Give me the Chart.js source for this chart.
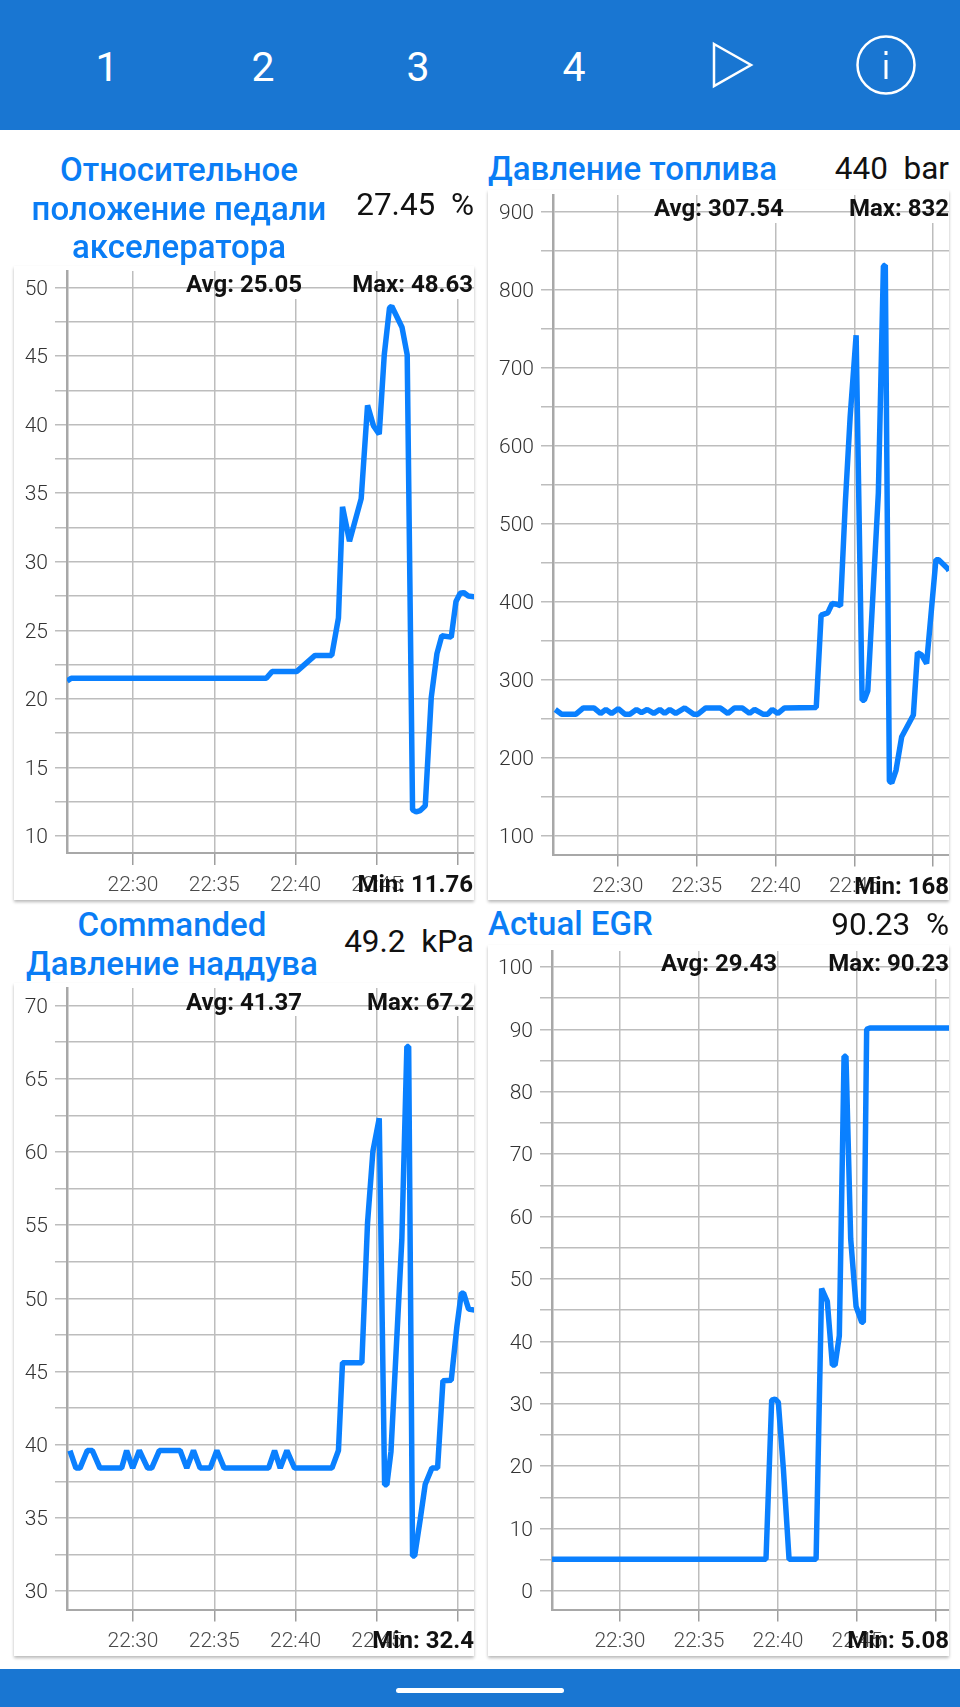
<!DOCTYPE html>
<html>
<head>
<meta charset="utf-8">
<title>Graphs</title>
<script src="https://cdn.jsdelivr.net/npm/chart.js@4"></script>
<style>
    html, body { margin: 0; padding: 0; background: #fff; }
    body { position: relative; width: 960px; height: 1707px; overflow: hidden; font-family: Roboto, sans-serif; }
    #top { position: absolute; left: 0; top: 0; width: 960px; height: 130px; background: #1976d2; }
    #bottom { position: absolute; left: 0; top: 1669px; width: 960px; height: 38px; background: #1976d2; }
    #pill { position: absolute; left: 396px; top: 19px; width: 168px; height: 5px; border-radius: 3px; background: #fff; }
    .num { position: absolute; top: 43px; width: 60px; margin-left: -30px; text-align: center; color: #fff; font-size: 41px; line-height: 48px; }
    .card { position: absolute; background: #fff; box-shadow: 0 2px 3px rgba(0,0,0,.28); overflow: hidden; }
    .card canvas { position: absolute; left: 0; top: 0; }
    .title { position: absolute; color: #0a7df5; font-size: 33px; font-weight: 500; line-height: 38.5px; white-space: nowrap; }
    .value { position: absolute; color: #111; font-size: 31.5px; line-height: 38px; white-space: pre; }
    .stat { position: absolute; color: #111; font-size: 24px; font-weight: 700; line-height: 26px; white-space: nowrap; }
</style>
</head>
<body>
<div id="top">
    <div class="num" style="left:107px">1</div>
    <div class="num" style="left:263px">2</div>
    <div class="num" style="left:418px">3</div>
    <div class="num" style="left:574px">4</div>
    <svg width="960" height="130" style="position:absolute;left:0;top:0">
        <path d="M714 44 L751 65 L714 86 Z" fill="none" stroke="#fff" stroke-width="2.5"/>
        <circle cx="886" cy="65" r="28.5" fill="none" stroke="#fff" stroke-width="2.5"/>
        <rect x="884.5" y="60" width="3" height="19" fill="#fff"/>
        <rect x="884.5" y="51" width="3" height="4" fill="#fff"/>
    </svg>
</div>
<div id="bottom"><div id="pill"></div></div>
<script>
// minutes after 22:00
var xTicks = [30, 35, 40, 45, 50];
var xLabels = ['22:30', '22:35', '22:40', '22:45', ''];

var timesPedal = [25.95, 26.2, 38.2, 38.56, 40.08, 41.2, 42.23, 42.64, 42.89, 43.32, 44.04, 44.43, 44.8, 45.15, 45.46, 45.78, 45.92, 46.55, 46.87, 47.2, 47.42, 47.67, 47.98, 48.35, 48.7, 49.0, 49.58, 49.87, 50.13, 50.34, 50.63, 51];
var valuesPedal = [21.3, 21.5, 21.5, 22, 22, 23.17, 23.17, 25.9, 34, 31.5, 34.6, 41.4, 39.9, 39.3, 45.1, 48.5, 48.63, 47.1, 45.1, 11.9, 11.76, 11.85, 12.2, 20.1, 23.3, 24.6, 24.5, 27.1, 27.7, 27.75, 27.5, 27.45];
var yTicksPedal = [10, 12.5, 15, 17.5, 20, 22.5, 25, 27.5, 30, 32.5, 35, 37.5, 40, 42.5, 45, 47.5, 50];

var timesFuel = [26.03, 26.43, 27.34, 27.81, 28.48, 28.9, 29.24, 29.6, 30.02, 30.44, 30.76, 31.18, 31.5, 31.86, 32.28, 32.66, 32.97, 33.29, 33.67, 34.24, 34.81, 35.08, 35.57, 36.5, 36.98, 37.4, 37.89, 38.35, 38.67, 39.2, 39.51, 39.79, 40.15, 40.57, 42.58, 42.89, 43.31, 43.59, 43.88, 44.12, 44.43, 44.73, 45.11, 45.49, 45.63, 45.85, 46.52, 46.84, 46.96, 47.22, 47.37, 47.64, 48, 48.74, 49, 49.26, 49.58, 50.17, 50.34, 50.91, 51];
var valuesFuel = [262, 256, 256, 264, 264, 257, 262, 257, 263, 256, 256, 262, 258, 262, 257, 262, 257, 262, 257, 264, 256, 256, 264, 264, 257, 264, 264, 257, 262, 256, 256, 262, 257, 264, 264.7, 383, 386, 398, 397, 395, 529, 637, 742, 274, 274, 286, 540, 831, 832, 170, 168, 184, 227, 255, 335, 332, 321, 454, 454, 443, 440];
var yTicksFuel = [100, 150, 200, 250, 300, 350, 400, 450, 500, 550, 600, 650, 700, 750, 800, 850, 900];

var timesBoost = [26.12, 26.49, 26.74, 27.19, 27.5, 27.97, 29.3, 29.61, 29.98, 30.39, 30.9, 31.15, 31.62, 32.9, 33.31, 33.72, 34.13, 34.75, 35.16, 35.61, 38.34, 38.71, 39.06, 39.47, 39.94, 42.24, 42.64, 42.89, 44.08, 44.43, 44.76, 45.15, 45.48, 45.62, 45.87, 46.54, 46.85, 46.96, 47.2, 47.33, 47.67, 47.98, 48.39, 48.74, 49.07, 49.58, 49.93, 50.2, 50.34, 50.65, 51];
var valuesBoost = [39.6, 38.4, 38.4, 39.6, 39.6, 38.4, 38.4, 39.6, 38.4, 39.6, 38.4, 38.4, 39.6, 39.6, 38.4, 39.6, 38.4, 38.4, 39.6, 38.4, 38.4, 39.6, 38.4, 39.6, 38.4, 38.4, 39.6, 45.6, 45.6, 55.15, 60.04, 62.3, 37.27, 37.27, 39.5, 54, 67.2, 67.2, 32.4, 32.4, 34.88, 37.3, 38.4, 38.4, 44.37, 44.4, 48.1, 50.35, 50.35, 49.26, 49.2];
var yTicksBoost = [30, 32.5, 35, 37.5, 40, 42.5, 45, 47.5, 50, 52.5, 55, 57.5, 60, 62.5, 65, 67.5, 70];

var timesEgr = [25.7, 39.24, 39.6, 39.81, 40.02, 40.34, 40.7, 42.41, 42.76, 43.12, 43.44, 43.61, 43.88, 44.18, 44.3, 44.6, 44.94, 45.3, 45.4, 45.61, 45.82, 51];
var valuesEgr = [5.08, 5.08, 30.6, 30.76, 30.26, 19.57, 5.08, 5.08, 48.47, 46.4, 36.2, 36.2, 40.9, 85.68, 85.68, 56.4, 45.58, 43.05, 43.05, 90, 90.23, 90.23];
var yTicksEgr = [0, 5, 10, 15, 20, 25, 30, 35, 40, 45, 50, 55, 60, 65, 70, 75, 80, 85, 90, 95, 100];

var panels = [
    { times: timesPedal, values: valuesPedal, yTicks: yTicksPedal, labelStep: 5, xMin: 25.94, xMax: 50.98, yMin: 8.76, yMax: 51.2,
      card: [14, 266, 460, 634], plot: [67, 271, 853], gapTicks: [40, 50],
      title: ['Относительное', 'положение педали', 'акселератора'], titleCenter: 179, titleTop: 151,
      value: '27.45  %', valueTop: 186,
      avg: 'Avg: 25.05', avgLeft: 186, statTop: 271, max: 'Max: 48.63', statRight: 473, min: 'Min: 11.76', minTop: 871 },
    { times: timesFuel, values: valuesFuel, yTicks: yTicksFuel, labelStep: 100, xMin: 25.886, xMax: 51, yMin: 76, yMax: 922,
      card: [488, 190, 461, 710], plot: [553, 195, 854.5], gapTicks: [40, 50],
      title: ['Давление топлива'], titleLeft: 488, titleTop: 150,
      value: '440  bar', valueTop: 150,
      avg: 'Avg: 307.54', avgLeft: 654, statTop: 195, max: 'Max: 832', statRight: 949, min: 'Min: 168', minTop: 873 },
    { times: timesBoost, values: valuesBoost, yTicks: yTicksBoost, labelStep: 5, xMin: 25.94, xMax: 50.98, yMin: 28.74, yMax: 71.2,
      card: [14, 983, 460, 673], plot: [67, 988, 1609.5], gapTicks: [40, 50],
      title: ['Commanded', 'Давление наддува'], titleCenter: 172, titleTop: 906, 
      value: '49.2  kPa', valueTop: 923,
      avg: 'Avg: 41.37', avgLeft: 186, statTop: 989, max: 'Max: 67.2', statRight: 474, min: 'Min: 32.4', minTop: 1627 },
    { times: timesEgr, values: valuesEgr, yTicks: yTicksEgr, labelStep: 10, xMin: 25.7, xMax: 50.82, yMin: -2.97, yMax: 102.56,
      card: [488, 945, 461, 711], plot: [552, 951, 1609.5], gapTicks: [50],
      title: ['Actual EGR'], titleLeft: 488, titleTop: 905,
      value: '90.23  %', valueTop: 906,
      avg: 'Avg: 29.43', avgLeft: 661, statTop: 950, max: 'Max: 90.23', statRight: 949, min: 'Min: 5.08', minTop: 1627 }
];

// the stat text hides the top of some vertical grid lines
var gridGaps = {
    id: 'gridGaps',
    beforeDatasetsDraw: function (chart, args, opts) {
        var ctx = chart.ctx;
        var yTop = chart.scales.y.getPixelForValue(opts.topValue);
        for (var i = 0; i < opts.ticks.length; i++) {
            var x = chart.scales.x.getPixelForValue(opts.ticks[i]);
            ctx.clearRect(x - 2, chart.chartArea.top - 1, 4, 29);
            ctx.save();
            ctx.strokeStyle = '#bdbdbd';
            ctx.lineWidth = 1.5;
            ctx.beginPath();
            ctx.moveTo(x - 3, yTop);
            ctx.lineTo(x + 3, yTop);
            ctx.stroke();
            ctx.restore();
        }
    }
};

function addText(cls, text, css) {
    var el = document.createElement('div');
    el.className = cls;
    el.textContent = text;
    for (var k in css) { el.style[k] = css[k]; }
    document.body.appendChild(el);
    return el;
}

function buildChart(p) {
    var card = document.createElement('div');
    card.className = 'card';
    card.style.left = p.card[0] + 'px';
    card.style.top = p.card[1] + 'px';
    card.style.width = p.card[2] + 'px';
    card.style.height = p.card[3] + 'px';
    var canvas = document.createElement('canvas');
    canvas.width = p.card[2];
    canvas.height = p.card[3];
    card.appendChild(canvas);
    document.body.appendChild(card);

    var points = [];
    for (var i = 0; i < p.times.length; i++) {
        points.push({ x: p.times[i], y: p.values[i] });
    }

    new Chart(canvas.getContext('2d'), {
        type: 'line',
        data: { datasets: [{ data: points, borderColor: '#0a80ff', borderWidth: 5.5, pointRadius: 0, tension: 0, borderJoinStyle: 'bevel' }] },
        plugins: [gridGaps],
        options: {
            responsive: false,
            animation: false,
            layout: { padding: { top: p.plot[1] - p.card[1], left: 0, right: 0, bottom: 0 } },
            plugins: {
                legend: { display: false },
                title: { display: false },
                tooltip: { enabled: false },
                gridGaps: { ticks: p.gapTicks, topValue: p.yTicks[p.yTicks.length - 1] }
            },
            scales: {
                x: {
                    type: 'linear',
                    min: p.xMin,
                    max: p.xMax,
                    afterBuildTicks: function (axis) {
                        axis.ticks = xTicks.map(function (v) { return { value: v }; });
                    },
                    afterFit: function (axis) {
                        axis.height = p.card[1] + p.card[3] - p.plot[2];
                        axis.paddingLeft = 0;
                        axis.paddingRight = 0;
                    },
                    grid: { color: '#bdbdbd', lineWidth: 1.5, tickLength: 12, tickColor: '#9e9e9e' },
                    border: { color: '#a8a8a8', width: 2 },
                    ticks: {
                        autoSkip: false,
                        maxRotation: 0,
                        padding: 8,
                        color: '#4a4a4a',
                        font: { family: 'Roboto', size: 21, weight: '300' },
                        callback: function (v) { return xLabels[xTicks.indexOf(v)]; }
                    }
                },
                y: {
                    type: 'linear',
                    min: p.yMin,
                    max: p.yMax,
                    afterBuildTicks: function (axis) {
                        axis.ticks = p.yTicks.map(function (v) { return { value: v }; });
                    },
                    afterFit: function (axis) {
                        axis.width = p.plot[0] - p.card[0];
                        axis.paddingTop = 0;
                        axis.paddingBottom = 0;
                    },
                    grid: { color: '#bdbdbd', lineWidth: 1.5, tickLength: 12 },
                    border: { color: '#a8a8a8', width: 2.5 },
                    ticks: {
                        autoSkip: false,
                        padding: 7,
                        labelOffset: 2,
                        color: '#333',
                        font: { family: 'Roboto', size: 21, weight: '300' },
                        callback: function (v) { return v % p.labelStep === 0 ? String(v) : ''; }
                    }
                }
            }
        }
    });

    // title and current value
    for (var j = 0; j < p.title.length; j++) {
        var css = { top: (p.titleTop + j * 38.5) + 'px' };
        if (p.titleCenter) {
            css.left = (p.titleCenter - 200) + 'px';
            css.width = '400px';
            css.textAlign = 'center';
        } else {
            css.left = p.titleLeft + 'px';
        }
        addText('title', p.title[j], css);
    }
    var right = 960 - p.card[0] - p.card[2];
    addText('value', p.value, { right: right + 'px', top: p.valueTop + 'px' });

    // avg, max and min sit over the canvas
    var statRight = (960 - p.statRight) + 'px';
    addText('stat', p.avg, { left: p.avgLeft + 'px', top: p.statTop + 'px' });
    addText('stat', p.max, { right: statRight, top: p.statTop + 'px' });
    addText('stat', p.min, { right: statRight, top: p.minTop + 'px' });
}

for (var n = 0; n < panels.length; n++) {
    buildChart(panels[n]);
}
</script>
</body>
</html>
